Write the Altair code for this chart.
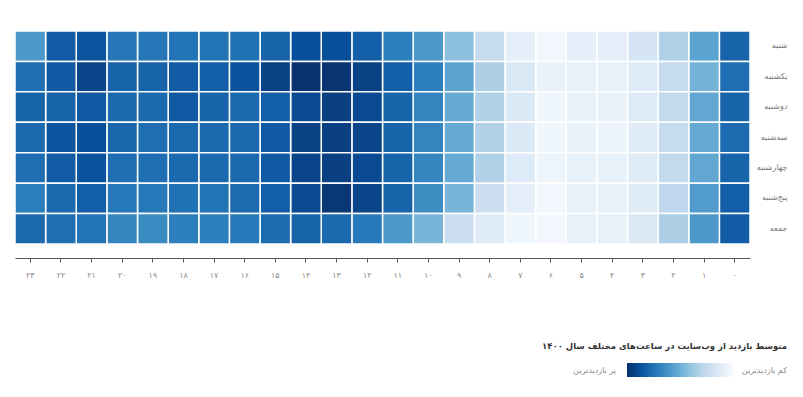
import altair as alt
import pandas as pd

hours = ["۰", "۱", "۲", "۳", "۴", "۵", "۶", "۷", "۸", "۹", "۱۰", "۱۱",
         "۱۲", "۱۳", "۱۴", "۱۵", "۱۶", "۱۷", "۱۸", "۱۹", "۲۰", "۲۱", "۲۲", "۲۳"]
days = ["شنبه", "یکشنبه", "دوشنبه", "سه‌شنبه", "چهارشنبه", "پنج‌شنبه", "جمعه"]

# relative average visits (0-100), hour 0 .. 23
sat = [80, 55, 32, 17, 10, 9, 3, 10, 25, 42, 60, 70, 82, 88, 88, 80, 75, 74, 74, 73, 73, 86, 83, 60]
sun = [76, 48, 25, 12, 8, 8, 7, 15, 33, 55, 70, 82, 93, 98, 99, 93, 87, 82, 83, 80, 80, 92, 84, 76]
mon = [80, 53, 26, 13, 7, 8, 4, 14, 32, 52, 68, 80, 90, 94, 90, 82, 78, 80, 84, 78, 78, 84, 80, 80]
tue = [77, 52, 25, 12, 6, 7, 4, 14, 32, 52, 68, 80, 92, 94, 93, 84, 78, 78, 78, 76, 79, 88, 86, 78]
wed = [80, 53, 26, 12, 8, 8, 5, 13, 32, 52, 67, 80, 90, 94, 92, 84, 78, 78, 78, 76, 76, 87, 83, 76]
thu = [82, 58, 27, 12, 8, 8, 3, 10, 23, 47, 64, 80, 92, 97, 90, 82, 77, 74, 75, 72, 72, 82, 78, 70]
fri = [83, 60, 33, 14, 8, 8, 3, 4, 12, 23, 47, 60, 72, 78, 80, 77, 72, 70, 70, 65, 67, 74, 76, 78]

series = [sat, sun, mon, tue, wed, thu, fri]

legend_title = ["متوسط بازدید از وب‌سایت در ساعت‌های مختلف سال ۱۴۰۰"]
label_most = ["پر بازدیدترین"]
label_least = ["کم بازدیدترین"]

blues = ["#08306b", "#08519c", "#2171b5", "#4292c6", "#6baed6",
         "#9ecae1", "#c6dbef", "#deebf7", "#f7fbff"]

rows = []
for d, vals in zip(days, series):
    for h, v in zip(hours, vals):
        rows.append({"day": d, "hour": h, "visits": v})
df = pd.DataFrame(rows)

FONT = "DejaVu Sans"

heat = alt.Chart(df).mark_rect(stroke="white", strokeWidth=1.5).encode(
    x=alt.X("hour:N", sort=list(reversed(hours)),
            axis=alt.Axis(title=None, orient="bottom", offset=14, labelAngle=0,
                          domainColor="#555", domainWidth=1.2, tickColor="#555",
                          tickSize=4, labelColor="#888", labelFontSize=8,
                          labelPadding=9, grid=False)),
    y=alt.Y("day:N", sort=days,
            axis=alt.Axis(title=None, orient="right", domain=False, ticks=False,
                          labelAlign="right", labelPadding=37, labelColor="#777",
                          labelFontSize=8, grid=False)),
    color=alt.Color("visits:Q", scale=alt.Scale(domain=[100, 0], range=blues),
                    legend=None),
)

# legend drawn as its own small layers
stops = [alt.GradientStop(color=c, offset=i / (len(blues) - 1)) for i, c in enumerate(blues)]
grad = alt.Chart(pd.DataFrame({"k": [0]})).mark_rect(
    fill=alt.Gradient(gradient="linear", stops=stops, x1=0, x2=1, y1=0, y2=0)
).encode(x=alt.value(612), x2=alt.value(718), y=alt.value(332), y2=alt.value(346))

title_txt = alt.Chart(pd.DataFrame({"t": legend_title})).mark_text(
    align="right", baseline="middle", fontSize=8.5, fontWeight="bold",
    color="#333", font=FONT
).encode(text="t:N", x=alt.value(772), y=alt.value(315))

most_txt = alt.Chart(pd.DataFrame({"t": label_most})).mark_text(
    align="right", baseline="middle", fontSize=8, color="#888", font=FONT
).encode(text="t:N", x=alt.value(601), y=alt.value(340))

least_txt = alt.Chart(pd.DataFrame({"t": label_least})).mark_text(
    align="right", baseline="middle", fontSize=8, color="#888", font=FONT
).encode(text="t:N", x=alt.value(772), y=alt.value(340))

chart = alt.layer(heat, grad, title_txt, most_txt, least_txt).properties(
    width=735, height=213,
    padding={"left": 7, "top": 23, "right": 45, "bottom": 140},
    autosize=alt.AutoSizeParams(type="none"),
).configure(font=FONT).configure_view(stroke=None)

chart.save("out.html", embed_options={"renderer": "svg", "actions": False})
